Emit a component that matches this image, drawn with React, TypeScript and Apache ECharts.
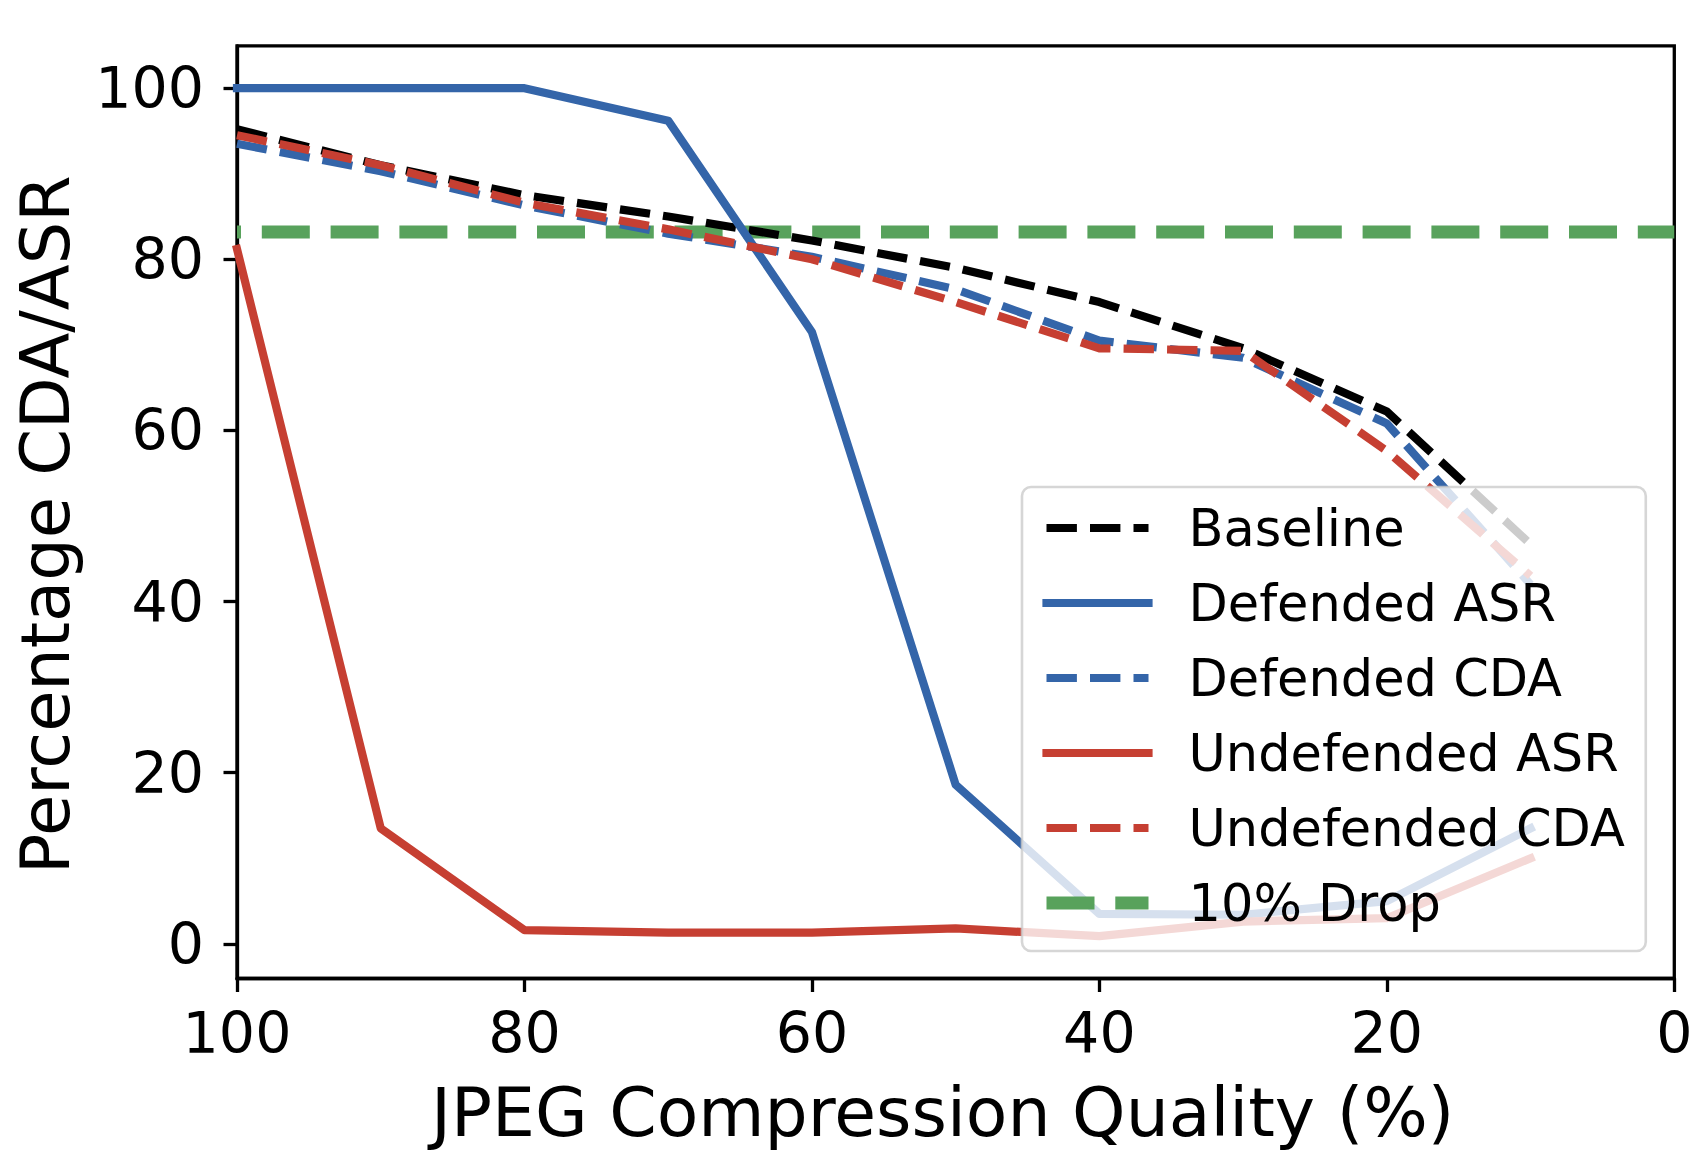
import React, { useEffect, useRef } from "react";
import * as echarts from "echarts";

const quality = [100, 90, 80, 70, 60, 50, 40, 30, 20, 10];
const baseline = [95.2, 91.0, 87.5, 85.0, 82.2, 79.0, 75.0, 69.6, 62.2, 46.7];
const defendedASR = [100, 100, 100, 96.2, 71.5, 18.6, 3.5, 3.4, 5.0, 13.5];
const defendedCDA = [93.5, 90.3, 86.3, 83.0, 80.3, 76.5, 70.5, 68.5, 60.8, 42.0];
const undefendedASR = [81.2, 13.5, 1.6, 1.3, 1.3, 1.8, 0.9, 2.6, 3.0, 10.0];
const undefendedCDA = [94.5, 91.0, 86.6, 83.5, 80.0, 75.0, 69.6, 69.3, 57.6, 43.0];
const dropLevel = 83.2;
const dropSpan = [100, 0];
const yTickValues = [0, 20, 40, 60, 80, 100];

const BLUE = "#3465a9";
const RED = "#c63f32";
const GREEN = "#58a25c";
const FONT = "DejaVu Sans";

const LW = 8.2;
const DASH = [30.4, 13.1];
const SPINE = 3.3;

function pairs(ys: number[]) {
  return quality.map((q, i) => [q, ys[i]]);
}

export default function App() {
  const ref = useRef<HTMLDivElement>(null);
  useEffect(() => {
    document.body.style.margin = "0";
    const chart = echarts.init(ref.current!, undefined, { renderer: "svg" });
    const dashed = (color: string) => ({
      color,
      width: LW,
      type: DASH,
      cap: "butt",
      join: "round",
    });
    const solid = (color: string) => ({
      color,
      width: LW,
      type: "solid",
      cap: "square",
      join: "round",
    });
    const tick = { show: true, inside: false, length: 13.5, lineStyle: { color: "#000", width: SPINE } };
    chart.setOption({
      animation: false,
      backgroundColor: "#ffffff",
      textStyle: { fontFamily: FONT },
      grid: {
        left: 237,
        right: 33.7,
        top: 45.8,
        bottom: 191.5,
        show: true,
        borderColor: "#000",
        borderWidth: SPINE,
        backgroundColor: "transparent",
      },
      xAxis: {
        type: "value",
        min: 0,
        max: 100,
        interval: 20,
        inverse: true,
        name: "JPEG Compression Quality (%)",
        nameLocation: "middle",
        nameGap: 100,
        nameTextStyle: { fontSize: 68, fontFamily: FONT, color: "#000", lineHeight: 68, padding: [0, 26, 0, 0] },
        axisLine: { show: true, onZero: false, lineStyle: { color: "#000", width: SPINE } },
        axisTick: tick,
        axisLabel: { fontSize: 57, fontFamily: FONT, color: "#000", margin: 26, lineHeight: 57 },
        splitLine: { show: false },
      },
      yAxis: {
        type: "value",
        min: -4.05,
        max: 104.95,
        name: "Percentage CDA/ASR",
        nameLocation: "middle",
        nameRotate: 90,
        nameGap: 158,
        nameTextStyle: { fontSize: 67, fontFamily: FONT, color: "#000", lineHeight: 67, padding: [0, 25, 0, 0] },
        axisLine: { show: true, onZero: false, lineStyle: { color: "#000", width: SPINE } },
        axisTick: { ...tick, customValues: yTickValues },
        axisLabel: { fontSize: 57, fontFamily: FONT, color: "#000", margin: 33, customValues: yTickValues },
        splitLine: { show: false },
      },
      legend: {
        orient: "vertical",
        left: 1022,
        top: 487,
        padding: [13, 21, 20, 18],
        itemWidth: 102,
        itemHeight: 20,
        itemGap: 19,
        selectedMode: false,
        backgroundColor: "rgba(255,255,255,0.8)",
        borderColor: "rgba(204,204,204,0.8)",
        borderWidth: 2.6,
        borderRadius: 9,
        itemStyle: { opacity: 0, borderWidth: 0 },
        textStyle: { fontSize: 51, fontFamily: FONT, color: "#000", lineHeight: 56, padding: [0, 0, 0, 35] },
        lineStyle: { width: LW },
        data: [
          { name: "Baseline" },
          { name: "Defended ASR" },
          { name: "Defended CDA" },
          { name: "Undefended ASR" },
          { name: "Undefended CDA" },
          { name: "10% Drop", lineStyle: { width: 13, dashOffset: 0 } },
        ],
      },
      series: [
        {
          name: "10% Drop",
          type: "line",
          symbol: "none",
          data: dropSpan.map((x) => [x, dropLevel]),
          lineStyle: { color: GREEN, width: 13, type: [48, 20.8], dashOffset: 43.6, cap: "butt" },
          itemStyle: { color: GREEN },
          z: 1,
        },
        {
          name: "Baseline",
          type: "line",
          symbol: "none",
          data: pairs(baseline),
          lineStyle: dashed("#000000"),
          itemStyle: { color: "#000000" },
          z: 2,
        },
        {
          name: "Defended ASR",
          type: "line",
          symbol: "none",
          data: pairs(defendedASR),
          lineStyle: solid(BLUE),
          itemStyle: { color: BLUE },
          z: 2,
        },
        {
          name: "Defended CDA",
          type: "line",
          symbol: "none",
          data: pairs(defendedCDA),
          lineStyle: dashed(BLUE),
          itemStyle: { color: BLUE },
          z: 2,
        },
        {
          name: "Undefended ASR",
          type: "line",
          symbol: "none",
          data: pairs(undefendedASR),
          lineStyle: solid(RED),
          itemStyle: { color: RED },
          z: 2,
        },
        {
          name: "Undefended CDA",
          type: "line",
          symbol: "none",
          data: pairs(undefendedCDA),
          lineStyle: dashed(RED),
          itemStyle: { color: RED },
          z: 2,
        },
      ],
    });
    return () => chart.dispose();
  }, []);
  return <div ref={ref} style={{ width: 1708, height: 1170 }} />;
}
